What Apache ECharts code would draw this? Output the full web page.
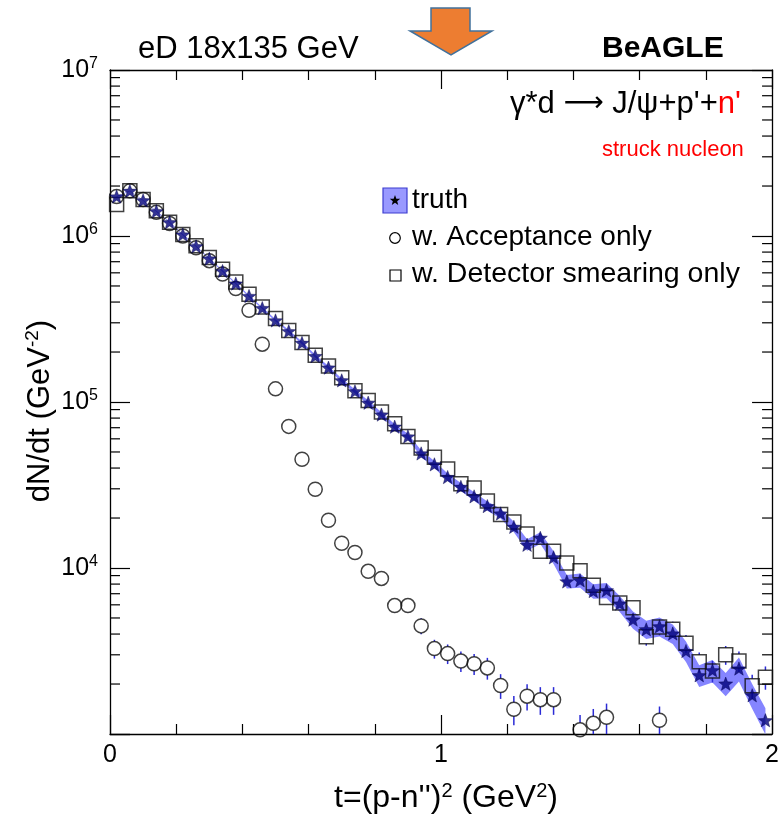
<!DOCTYPE html>
<html>
<head>
<meta charset="utf-8">
<script src="https://cdn.jsdelivr.net/npm/echarts@6.0.0/dist/echarts.min.js"></script>
<style>
  html, body { margin: 0; padding: 0; background: #ffffff; }
  #chart { width: 782px; height: 816px; }
</style>
</head>
<body>
<div id="chart"></div>
<script>
// t bin centres (GeV^2), 0.04 wide bins
const tBins = [0.02, 0.06, 0.10, 0.14, 0.18, 0.22, 0.26, 0.30, 0.34, 0.38,
               0.42, 0.46, 0.50, 0.54, 0.58, 0.62, 0.66, 0.70, 0.74, 0.78,
               0.82, 0.86, 0.90, 0.94, 0.98, 1.02, 1.06, 1.10, 1.14, 1.18,
               1.22, 1.26, 1.30, 1.34, 1.38, 1.42, 1.46, 1.50, 1.54, 1.58,
               1.62, 1.66, 1.70, 1.74, 1.78, 1.82, 1.86, 1.90, 1.94, 1.98];

// generator-level dN/dt
const truth = [1.73e6, 1.87e6, 1.64e6, 1.41e6, 1.21e6, 1.02e6, 8.67e5, 7.31e5, 6.15e5, 5.17e5,
               4.35e5, 3.68e5, 3.10e5, 2.67e5, 2.27e5, 1.89e5, 1.61e5, 1.35e5, 1.16e5, 9.9e4,
               8.4e4, 7.1e4, 6.2e4, 4.9e4, 4.21e4, 3.53e4, 3.08e4, 2.70e4, 2.36e4, 2.13e4,
               1.77e4, 1.38e4, 1.52e4, 1.16e4, 8.3e3, 8.43e3, 7.26e3, 7.34e3, 6.1e3, 4.89e3,
               4.27e3, 4.45e3, 4.03e3, 3.16e3, 2.26e3, 2.42e3, 2.01e3, 2.48e3, 1.71e3, 1.21e3];
// relative uncertainty of the truth band
const truthRelErr = [0.006, 0.006, 0.006, 0.007, 0.007, 0.008, 0.008, 0.009, 0.010, 0.011,
                     0.012, 0.013, 0.015, 0.016, 0.018, 0.020, 0.022, 0.025, 0.027, 0.030,
                     0.033, 0.036, 0.040, 0.044, 0.048, 0.052, 0.056, 0.060, 0.064, 0.068,
                     0.072, 0.078, 0.082, 0.088, 0.094, 0.098, 0.100, 0.105, 0.110, 0.120,
                     0.125, 0.130, 0.135, 0.140, 0.150, 0.155, 0.160, 0.165, 0.170, 0.180];

// with acceptance only (null = below the plotted range)
const acceptance = [1.73e6, 1.87e6, 1.66e6, 1.39e6, 1.19e6, 1.0e6, 8.5e5, 7.1e5, 5.9e5, 4.82e5,
                    3.57e5, 2.23e5, 1.2e5, 7.13e4, 4.52e4, 2.98e4, 1.94e4, 1.41e4, 1.24e4, 9.55e3,
                    8.65e3, 5.94e3, 5.94e3, 4.48e3, 3.27e3, 3.05e3, 2.75e3, 2.65e3, 2.5e3, 1.96e3,
                    1.41e3, 1.69e3, 1.61e3, 1.61e3, null, 1.06e3, 1.16e3, 1.26e3, null, null,
                    null, 1.21e3, null, null, null, null, null, null, null, null];
const acceptanceRelErr = [0.006, 0.006, 0.006, 0.006, 0.007, 0.007, 0.008, 0.009, 0.010, 0.011,
                          0.013, 0.016, 0.021, 0.028, 0.035, 0.043, 0.054, 0.063, 0.066, 0.076,
                          0.080, 0.096, 0.096, 0.110, 0.130, 0.135, 0.140, 0.145, 0.150, 0.170,
                          0.200, 0.180, 0.190, 0.190, null, 0.230, 0.220, 0.210, null, null,
                          null, 0.210, null, null, null, null, null, null, null, null];

// with detector smearing only
const smearing = [1.55e6, 1.87e6, 1.66e6, 1.42e6, 1.21e6, 1.02e6, 8.75e5, 7.41e5, 6.3e5, 5.28e5,
                  4.45e5, 3.73e5, 3.18e5, 2.7e5, 2.28e5, 1.91e5, 1.65e5, 1.40e5, 1.17e5, 1.02e5,
                  8.7e4, 7.4e4, 6.2e4, 5.28e4, 4.65e4, 3.95e4, 3.22e4, 3.03e4, 2.53e4, 2.1e4,
                  1.89e4, 1.6e4, 1.26e4, 1.26e4, 1.07e4, 9.64e3, 7.87e3, 6.64e3, 6.15e3, 5.77e3,
                  3.86e3, 4.41e3, 4.27e3, 3.52e3, 2.72e3, 2.4e3, 3.0e3, 2.75e3, 1.95e3, 2.2e3];
const smearingRelErr = [0.006, 0.006, 0.006, 0.006, 0.007, 0.007, 0.008, 0.008, 0.009, 0.010,
                        0.011, 0.012, 0.013, 0.014, 0.015, 0.017, 0.018, 0.020, 0.021, 0.023,
                        0.025, 0.027, 0.030, 0.032, 0.034, 0.037, 0.041, 0.042, 0.046, 0.051,
                        0.054, 0.058, 0.065, 0.065, 0.071, 0.075, 0.083, 0.090, 0.094, 0.097,
                        0.118, 0.110, 0.112, 0.123, 0.140, 0.149, 0.130, 0.140, 0.166, 0.160];

// axis ranges and labelled decades
const xRange = [0, 2];
const yRange = [1e3, 1e7];
const yLabelDecades = [1e4, 1e5, 1e6, 1e7];

const FONT = "'Liberation Sans', Arial, Helvetica, sans-serif";
const BAND = '#8585ff';
const ERR = '#2b2bd6';

// five-pointed star outline (ROOT full star marker)
function starPts(cx, cy, R, r) {
  const p = [];
  for (let k = 0; k < 10; k++) {
    const a = -Math.PI / 2 + k * Math.PI / 5;
    const rad = (k % 2) ? r : R;
    p.push([cx + rad * Math.cos(a), cy + rad * Math.sin(a)]);
  }
  return p;
}
const starSymbol = 'path://M' + starPts(50, 50, 50, 21).map(q => q[0].toFixed(2) + ',' + q[1].toFixed(2)).join('L') + 'Z';

function points(vals) {
  const out = [];
  tBins.forEach((t, i) => { if (vals[i] != null) out.push([t, vals[i]]); });
  return out;
}

// vertical error bars drawn outside the marker, like ROOT does
function errorBars(vals, errs, gap, name) {
  const data = [];
  tBins.forEach((t, i) => { if (vals[i] != null && errs[i] != null) data.push([t, vals[i], errs[i]]); });
  return {
    name: name, type: 'custom', data: data, clip: true, z: 2, silent: true,
    renderItem: function (params, api) {
      const t = api.value(0), v = api.value(1), e = api.value(2);
      const c = api.coord([t, v]);
      const hi = api.coord([t, v * (1 + e)]);
      const lo = api.coord([t, v * (1 - e)]);
      const kids = [];
      const st = { stroke: ERR, lineWidth: 1.5 };
      if (c[1] - hi[1] > gap) kids.push({ type: 'line', shape: { x1: c[0], y1: hi[1], x2: c[0], y2: c[1] - gap }, style: st });
      if (lo[1] - c[1] > gap) kids.push({ type: 'line', shape: { x1: c[0], y1: c[1] + gap, x2: c[0], y2: lo[1] }, style: st });
      return { type: 'group', children: kids };
    }
  };
}

const chart = echarts.init(document.getElementById('chart'), null, { renderer: 'canvas' });

const axisLineStyle = { color: '#000', width: 1.3 };
const tickLine = { color: '#000', width: 1.2 };

function xAx(pos, labels) {
  return {
    type: 'value', position: pos, min: xRange[0], max: xRange[1], interval: 1,
    axisLine: { show: true, onZero: false, lineStyle: axisLineStyle },
    axisTick: { show: true, inside: true, length: 19, lineStyle: tickLine },
    minorTick: { show: true, splitNumber: 5, length: 10, lineStyle: tickLine },
    splitLine: { show: false }, minorSplitLine: { show: false },
    axisLabel: labels ? { show: true, fontSize: 25, color: '#000', fontFamily: FONT, margin: 9 } : { show: false }
  };
}
function yAx(pos, labels) {
  return {
    type: 'log', logBase: 10, position: pos, min: yRange[0], max: yRange[1], splitNumber: 4,
    axisLine: { show: true, onZero: false, lineStyle: axisLineStyle },
    axisTick: { show: true, inside: true, length: 20, lineStyle: tickLine },
    splitLine: { show: false },
    axisLabel: labels ? {
      show: true, margin: 12, color: '#000',
      formatter: function (v) {
        if (yLabelDecades.indexOf(v) < 0) return '';
        return '{b|10}{s|' + Math.round(Math.log10(v)) + '}';
      },
      rich: {
        b: { fontSize: 25, lineHeight: 28, fontFamily: FONT, color: '#000' },
        s: { fontSize: 16, lineHeight: 14, fontFamily: FONT, color: '#000', verticalAlign: 'top' }
      }
    } : { show: false }
  };
}

// minor log ticks (2..9 x 10^n) on the left and right frame edges
const minorTickSeries = {
  type: 'custom', data: [0], clip: false, z: 10, silent: true,
  renderItem: function (params, api) {
    const kids = [];
    for (let d = 3; d < 7; d++) {
      for (let m = 2; m <= 9; m++) {
        const v = m * Math.pow(10, d);
        const L = api.coord([xRange[0], v]);
        const R = api.coord([xRange[1], v]);
        kids.push({ type: 'line', shape: { x1: L[0], y1: L[1], x2: L[0] + 10, y2: L[1] }, style: { stroke: '#000', lineWidth: 1.2 } });
        kids.push({ type: 'line', shape: { x1: R[0] - 10, y1: R[1], x2: R[0], y2: R[1] }, style: { stroke: '#000', lineWidth: 1.2 } });
      }
    }
    return { type: 'group', children: kids };
  }
};

// truth uncertainty band
const bandSeries = {
  type: 'custom', data: [0], clip: true, z: 1, silent: true,
  renderItem: function (params, api) {
    const up = [], lo = [];
    for (let i = 0; i < tBins.length; i++) {
      up.push(api.coord([tBins[i], truth[i] * (1 + truthRelErr[i])]));
      lo.push(api.coord([tBins[i], truth[i] * (1 - truthRelErr[i])]));
    }
    return { type: 'polygon', shape: { points: up.concat(lo.reverse()) }, style: { fill: BAND, stroke: null } };
  }
};

const sup = { fontFamily: FONT, color: '#000', fill: '#000', verticalAlign: 'top' };
const legendStar = starPts(395, 200.5, 5.5, 2.3);

const option = {
  animation: false,
  backgroundColor: '#ffffff',
  grid: { left: 110, right: 5, top: 70, bottom: 82, containLabel: false },
  xAxis: [xAx('bottom', true), xAx('top', false)],
  yAxis: [yAx('left', true), yAx('right', false)],
  series: [
    bandSeries,
    errorBars(smearing, smearingRelErr, 7, 'smearErr'),
    errorBars(acceptance, acceptanceRelErr, 7, 'accErr'),
    {
      name: 'w. Detector smearing only', type: 'scatter', data: points(smearing), z: 3,
      symbol: 'rect', symbolSize: 14,
      itemStyle: { color: 'rgba(0,0,0,0)', borderColor: '#111', borderWidth: 1.5 }
    },
    {
      name: 'w. Acceptance only', type: 'scatter', data: points(acceptance), z: 3,
      symbol: 'circle', symbolSize: 14,
      itemStyle: { color: 'rgba(0,0,0,0)', borderColor: '#111', borderWidth: 1.5 }
    },
    {
      name: 'truth', type: 'scatter', data: points(truth), z: 5,
      symbol: starSymbol, symbolSize: 14, symbolKeepAspect: true,
      itemStyle: { color: '#00007a', borderColor: '#000040', borderWidth: 0.5 }
    },
    minorTickSeries
  ],
  graphic: [
    // downward arrow above the frame
    { type: 'polygon', z: 20,
      shape: { points: [[431, 8], [470, 8], [470, 31], [492, 31], [451, 55], [410, 31], [431, 31]] },
      style: { fill: '#ED7D31', stroke: '#41719C', lineWidth: 1.5 } },
    { type: 'text', x: 138, y: 49, z: 20,
      style: { text: 'eD 18x135 GeV', font: '31px ' + FONT, fill: '#000', textAlign: 'left', textVerticalAlign: 'middle' } },
    { type: 'text', x: 602, y: 49, z: 20,
      style: { text: 'BeAGLE', font: 'bold 30px ' + FONT, fill: '#000', textAlign: 'left', textVerticalAlign: 'middle' } },
    { type: 'text', x: 510, y: 104, z: 20,
      style: { text: '{a|\u03b3*d }{w|\u27f6}{a| J/\u03c8+p\'+}{r|n\'}', textAlign: 'left', textVerticalAlign: 'middle',
        rich: { a: { fontSize: 31, fontFamily: FONT, color: '#000', fill: '#000' },
                w: { fontSize: 28, fontFamily: "'DejaVu Sans', sans-serif", color: '#000', fill: '#000' },
                r: { fontSize: 31, fontFamily: FONT, color: '#ff0000', fill: '#ff0000' } } } },
    { type: 'text', x: 602, y: 150, z: 20,
      style: { text: 'struck nucleon', font: '22px ' + FONT, fill: '#ff0000', textAlign: 'left', textVerticalAlign: 'middle' } },
    // legend
    { type: 'rect', z: 20, shape: { x: 383, y: 188, width: 24, height: 25 },
      style: { fill: '#9999ff', stroke: '#3c3cd0', lineWidth: 1.2 } },
    { type: 'polygon', z: 21, shape: { points: legendStar }, style: { fill: '#000', stroke: null } },
    { type: 'text', x: 412, y: 200, z: 20,
      style: { text: 'truth', font: '28px ' + FONT, fill: '#000', textAlign: 'left', textVerticalAlign: 'middle' } },
    { type: 'circle', z: 20, shape: { cx: 395, cy: 238, r: 5.3 },
      style: { fill: 'none', stroke: '#000', lineWidth: 1.2 } },
    { type: 'text', x: 412, y: 237, z: 20,
      style: { text: 'w. Acceptance only', font: '28px ' + FONT, fill: '#000', textAlign: 'left', textVerticalAlign: 'middle' } },
    { type: 'rect', z: 20, shape: { x: 390, y: 270, width: 11, height: 11 },
      style: { fill: 'none', stroke: '#000', lineWidth: 1.2 } },
    { type: 'text', x: 412, y: 274, z: 20,
      style: { text: 'w. Detector smearing only', font: '28.5px ' + FONT, fill: '#000', textAlign: 'left', textVerticalAlign: 'middle' } },
    // axis titles
    { type: 'text', x: 40, y: 411, rotation: Math.PI / 2, z: 20,
      style: { text: '{a|dN/dt (GeV}{s|-2}{a|)}', textAlign: 'center', textVerticalAlign: 'middle',
        rich: { a: { fontSize: 31, lineHeight: 34, fontFamily: FONT, color: '#000', fill: '#000' },
                s: Object.assign({ fontSize: 19, lineHeight: 14 }, sup) } } },
    { type: 'text', x: 446, y: 798, z: 20,
      style: { text: '{a|t=(p-n\'\')}{s|2}{a| (GeV}{s|2}{a|)}', textAlign: 'center', textVerticalAlign: 'middle',
        rich: { a: { fontSize: 32, lineHeight: 34, fontFamily: FONT, color: '#000', fill: '#000' },
                s: Object.assign({ fontSize: 20, lineHeight: 14 }, sup) } } }
  ]
};

chart.setOption(option);
</script>
</body>
</html>
